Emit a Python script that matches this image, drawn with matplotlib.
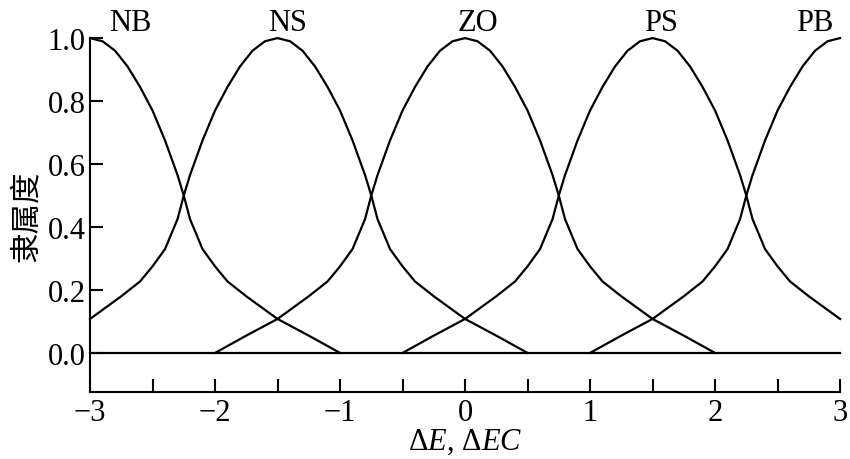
import matplotlib
matplotlib.use("Agg")
import matplotlib.pyplot as plt
import numpy as np

# ---- data ----
labels = ["NB", "NS", "ZO", "PS", "PB"]
centers = [-3.0, -1.5, 0.0, 1.5, 3.0]
# membership profile (distance from centre -> degree)
profile_d = [0.0, 0.1, 0.2, 0.3, 0.4, 0.5, 0.6, 0.7, 0.75, 0.8, 0.9, 1.0, 1.1, 1.25, 1.5, 1.75, 2.0]
profile_y = [1.0, 0.99, 0.96, 0.91, 0.845, 0.77, 0.675, 0.565, 0.50, 0.425, 0.33, 0.275, 0.227, 0.18, 0.108, 0.055, 0.0]
label_x = [-2.68, -1.42, 0.1, 1.57, 2.8]
xticks_major = [-3, -2, -1, 0, 1, 2, 3]
xticks_minor = [-2.5, -1.5, -0.5, 0.5, 1.5, 2.5]
yticks = [0.0, 0.2, 0.4, 0.6, 0.8, 1.0]
xrange_ = [-3.0, 3.0]

plt.rcParams['font.family'] = ['Liberation Serif', 'Noto Sans CJK SC']
plt.rcParams['mathtext.fontset'] = 'custom'
plt.rcParams['mathtext.rm'] = 'Liberation Serif'
plt.rcParams['mathtext.it'] = 'Liberation Serif:italic'

fig = plt.figure(figsize=(8.5, 4.6), dpi=100)
ax = fig.add_axes([0.1059, 0.1457, 0.8824, 0.7693])

lw = 1.6
# build the full symmetric profile
d_full = [-d for d in profile_d[::-1]] + profile_d[1:]
y_full = profile_y[::-1] + profile_y[1:]
for c in centers:
    xs, ys = [], []
    for d, y in zip(d_full, y_full):
        x = c + d
        if xrange_[0] - 1e-9 <= x <= xrange_[1] + 1e-9:
            xs.append(x)
            ys.append(y)
    ax.plot(xs, ys, color='black', lw=lw, clip_on=False)

ax.plot(xrange_, [0, 0], color='black', lw=lw, clip_on=False)

for lab, lx in zip(labels, label_x):
    ax.text(lx, 1.027, lab, ha='center', va='baseline', fontsize=22,
            family='Liberation Serif')

ax.set_xlim(-3, 3)
ax.set_ylim(-0.124, 1.0)
ax.spines['top'].set_visible(False)
ax.spines['right'].set_visible(False)
for s in ['left', 'bottom']:
    ax.spines[s].set_linewidth(1.5)

ax.set_xticks(xticks_major)
ax.set_xticks(xticks_minor, minor=True)
ax.set_xticklabels(['\u2212' + str(-t) if t < 0 else str(t) for t in xticks_major])
ax.set_yticks(yticks)
ax.set_yticklabels([f"{t:.1f}" for t in yticks])
ax.tick_params(axis='both', which='both', direction='in', length=9.5, width=1.5,
               labelsize=22, pad=3)
ax.tick_params(axis='x', which='both', pad=4)

ax.set_xlabel(r'$\Delta E$, $\Delta EC$', fontsize=22, labelpad=0)
ax.set_ylabel('隶属度', fontsize=22, family='Noto Sans CJK SC', labelpad=4)

fig.savefig('out.png', dpi=100)
